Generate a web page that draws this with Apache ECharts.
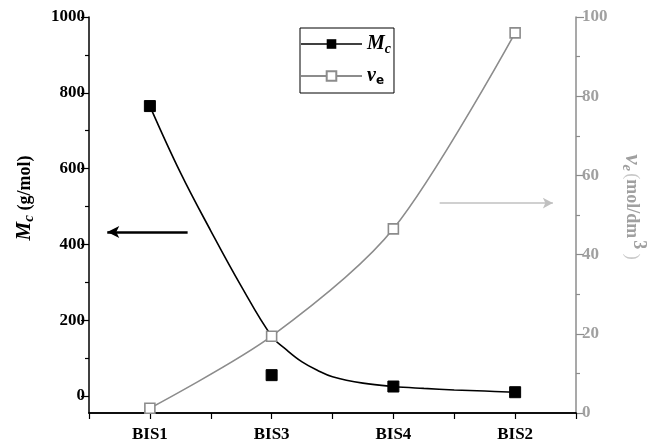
<!DOCTYPE html>
<html>
<head>
<meta charset="utf-8">
<script src="https://cdn.jsdelivr.net/npm/echarts@6/dist/echarts.min.js"></script>
<style>html,body{margin:0;padding:0;background:#fff}#c{width:664px;height:445px}</style>
</head>
<body>
<div id="c"></div>
<script>
// ---- data ----
const categories = ['BIS1', 'BIS3', 'BIS4', 'BIS2'];
const mcValues = [765, 55, 25, 10];          // Mc (g/mol), left axis
const veValues = [1.2, 19.4, 46.5, 96];       // ve (mol/dm3), right axis
// fitted Mc curve (x in category units, 1 = BIS1)
const mcFitX = [1, 1.25, 1.5, 1.75, 2.0, 2.125, 2.25, 2.375, 2.5, 2.75, 3.0, 3.25, 3.5, 3.75, 4.0];
const mcFitY = [765, 590, 436, 290, 158, 121, 90, 68, 51, 34, 25, 20, 16, 13, 10];
const leftTicks = [0, 200, 400, 600, 800, 1000];
const rightTicks = [0, 20, 40, 60, 80, 100];
// arrows (data coordinates)
const leftArrow = {x: [1.31, 0.65], y: 433};
const rightArrow = {x: [3.38, 4.31], y: 53};

const FONT = '"Liberation Serif", "Times New Roman", serif';
const GRAY = '#8c8c8c';
const LGRAY = '#a0a0a0';

const chart = echarts.init(document.getElementById('c'), null, {renderer: 'canvas'});

const catIdx = categories.map((c, i) => i + 1);

const option = {
  animation: false,
  backgroundColor: '#fff',
  grid: [
    {left: 89, right: 88, top: 17, bottom: 32},
    {left: 89, right: 88, top: 17, bottom: 49}
  ],
  legend: {
    orient: 'vertical',
    left: 300, top: 28,
    padding: [6, 3, 6, 0],
    itemGap: 10,
    itemWidth: 61, itemHeight: 12,
    borderColor: '#000', borderWidth: 1,
    data: [
      {name: 'Mc', lineStyle: {width: 1.5, color: '#000', opacity: 1}},
      {name: 've'}
    ],
    formatter: function (n) {
      return n === 'Mc' ? '{m|M}{s|c}' : '{m|ν}{sb|e}';
    },
    textStyle: {
      fontFamily: FONT,
      rich: {
        m: {fontFamily: FONT, fontSize: 20, fontStyle: 'italic', fontWeight: 'bold', color: '#000'},
        s: {fontFamily: FONT, fontSize: 14, fontStyle: 'italic', fontWeight: 'bold', color: '#000', padding: [10, 0, 0, 0]},
        sb: {fontFamily: 'DejaVu Sans', fontSize: 12, fontWeight: 'bold', color: '#000', padding: [10, 0, 0, 0]}
      }
    }
  },
  xAxis: [
    {
      gridIndex: 0, type: 'value', position: 'bottom',
      min: 0.5, max: 4.5, interval: 0.5,
      axisLine: {show: true, lineStyle: {color: '#000', width: 1.5}},
      axisTick: {show: true, inside: false, length: 6, lineStyle: {color: '#000', width: 1.2}},
      splitLine: {show: false},
      axisLabel: {
        margin: 13,
        fontFamily: FONT, fontWeight: 'bold', fontSize: 17, color: '#000',
        formatter: function (v) {
          const i = Math.round(v);
          return Math.abs(v - i) < 1e-6 && i >= 1 && i <= categories.length ? categories[i - 1] : '';
        }
      }
    },
    {
      gridIndex: 0, type: 'value', position: 'top',
      min: 0.5, max: 4.5,
      axisLine: {show: true, lineStyle: {color: '#000', width: 1.5}},
      axisTick: {show: false}, axisLabel: {show: false}, splitLine: {show: false}
    },
    {
      gridIndex: 1, type: 'value', min: 0.5, max: 4.5, show: false
    }
  ],
  yAxis: [
    {
      gridIndex: 0, type: 'value', position: 'left', min: 0, max: 1,
      axisLine: {show: true, lineStyle: {color: '#000', width: 1.5}},
      axisTick: {show: false}, axisLabel: {show: false}, splitLine: {show: false}
    },
    {
      gridIndex: 0, type: 'value', position: 'right',
      min: rightTicks[0], max: rightTicks[rightTicks.length - 1], interval: 20,
      axisLine: {show: true, lineStyle: {color: GRAY, width: 1.5}},
      axisTick: {show: true, inside: false, length: 8, lineStyle: {color: GRAY, width: 1.2}},
      minorTick: {show: true, splitNumber: 2, length: 4, lineStyle: {color: GRAY, width: 1.2}},
      splitLine: {show: false}, minorSplitLine: {show: false},
      axisLabel: {margin: 6, fontFamily: FONT, fontWeight: 'bold', fontSize: 17, color: LGRAY,
        formatter: function (v) { return String(v); }}
    },
    {
      gridIndex: 1, type: 'value', position: 'left',
      min: leftTicks[0], max: leftTicks[leftTicks.length - 1], interval: 200,
      axisLine: {show: false},
      axisTick: {show: true, inside: false, length: 8, lineStyle: {color: '#000', width: 1.2}},
      minorTick: {show: true, splitNumber: 2, length: 4, lineStyle: {color: '#000', width: 1.2}},
      splitLine: {show: false}, minorSplitLine: {show: false},
      axisLabel: {margin: 4, fontFamily: FONT, fontWeight: 'bold', fontSize: 17, color: '#000',
        formatter: function (v) { return String(v); }}
    }
  ],
  series: [
    {
      name: 'Mc fit', type: 'line', xAxisIndex: 2, yAxisIndex: 2,
      data: mcFitX.map((x, i) => [x, mcFitY[i]]),
      smooth: 0.4,
      showSymbol: false, symbol: 'none',
      lineStyle: {color: '#000', width: 1.6},
      silent: true, z: 2,
      markLine: {
        silent: true, symbol: ['none', 'arrow'], symbolSize: [9, 12],
        label: {show: false},
        lineStyle: {color: '#000', width: 2.5, type: 'solid'},
        data: [[{coord: [leftArrow.x[0], leftArrow.y]}, {coord: [leftArrow.x[1], leftArrow.y]}]]
      }
    },
    {
      name: 'Mc', type: 'line', xAxisIndex: 2, yAxisIndex: 2,
      data: catIdx.map((x, i) => [x, mcValues[i]]),
      symbol: 'rect', symbolSize: 11, showSymbol: true,
      itemStyle: {color: '#000', borderColor: '#000'},
      lineStyle: {width: 0, color: '#000', opacity: 0},
      z: 4
    },
    {
      name: 've', type: 'line', xAxisIndex: 0, yAxisIndex: 1,
      data: catIdx.map((x, i) => [x, veValues[i]]),
      smooth: 0.3,
      symbol: 'rect', symbolSize: 10, showSymbol: true,
      itemStyle: {color: '#fff', borderColor: GRAY, borderWidth: 1.6},
      lineStyle: {color: GRAY, width: 1.6},
      z: 3,
      markLine: {
        silent: true, symbol: ['none', 'arrow'], symbolSize: [8, 10],
        label: {show: false},
        lineStyle: {color: '#c0c0c0', width: 1.5, type: 'solid'},
        data: [[{coord: [rightArrow.x[0], rightArrow.y]}, {coord: [rightArrow.x[1], rightArrow.y]}]]
      }
    }
  ],
  graphic: [
    {
      type: 'text', x: 25, y: 198, rotation: Math.PI / 2,
      style: {
        text: '{m|M}{s|c}{t| (g/mol)}',
        align: 'center', verticalAlign: 'middle',
        rich: {
          m: {fontFamily: FONT, fontSize: 21, fontStyle: 'italic', fontWeight: 'bold', fill: '#000'},
          s: {fontFamily: FONT, fontSize: 15, fontStyle: 'italic', fontWeight: 'bold', fill: '#000', padding: [8, 0, 0, 0]},
          t: {fontFamily: FONT, fontSize: 18, fontWeight: 'bold', fill: '#000'}
        }
      }
    },
    {
      type: 'text', x: 632, y: 207, rotation: -Math.PI / 2,
      style: {
        text: '{m|ν}{s|e}{p|(}{t|mol/dm}{u|3}{p| )}',
        align: 'center', verticalAlign: 'middle',
        rich: {
          m: {fontFamily: FONT, fontSize: 23, fontStyle: 'italic', fontWeight: 'bold', fill: LGRAY},
          s: {fontFamily: FONT, fontSize: 15, fontStyle: 'italic', fontWeight: 'bold', fill: LGRAY, padding: [10, 2, 0, 0]},
          p: {fontFamily: FONT, fontSize: 18, fill: '#c8c8c8'},
          t: {fontFamily: FONT, fontSize: 18, fontWeight: 'bold', fill: LGRAY},
          u: {fontFamily: FONT, fontSize: 18, fontWeight: 'bold', fill: LGRAY, padding: [0, 0, 14, 2]}
        }
      }
    }
  ]
};

chart.setOption(option);
</script>
</body>
</html>
